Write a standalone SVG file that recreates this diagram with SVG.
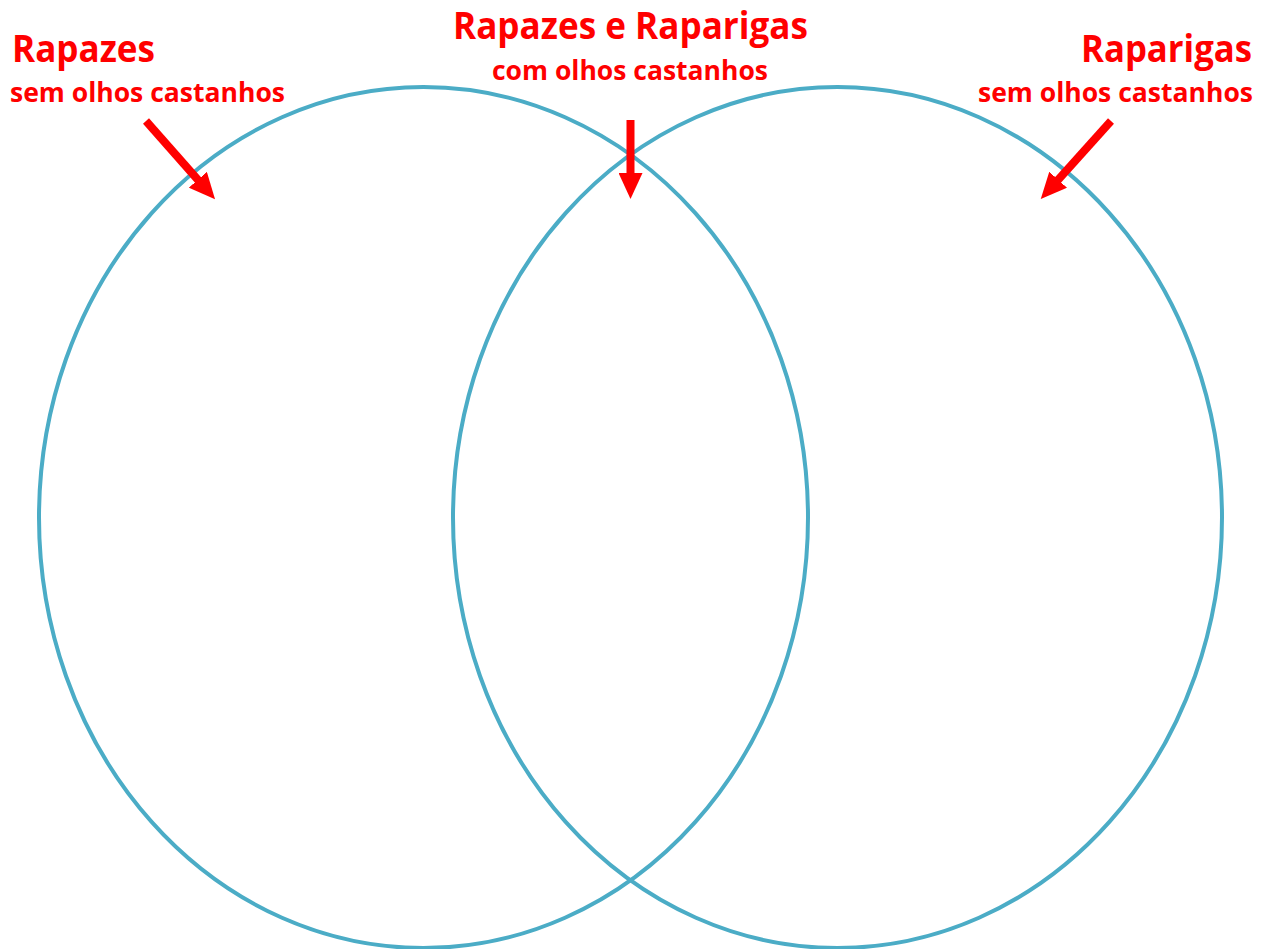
<svg xmlns="http://www.w3.org/2000/svg" width="1269" height="949" viewBox="0 0 1269 949">
<style>
.set{fill:none;stroke:#4BACC6;stroke-width:4}
.t{font-family:"Open Sans","Liberation Sans",sans-serif;font-weight:bold;fill:#FF0000}
.big{font-size:37px}
.small{font-size:26px}
.arr{stroke:#FF0000;stroke-width:8;fill:none;marker-end:url(#head)}
</style>
<defs>
<marker id="head" markerUnits="userSpaceOnUse" viewBox="0 0 26 24" refX="1" refY="12" markerWidth="26" markerHeight="24" orient="auto">
<polygon points="0,0 26,12 0,24" fill="#FF0000"/>
</marker>
</defs>
<rect width="1269" height="949" fill="#FFFFFF"/>
<g id="set-rapazes"><ellipse class="set" cx="423.5" cy="517.5" rx="384.5" ry="430.5"/></g>
<g id="set-raparigas"><ellipse class="set" cx="837.5" cy="517.5" rx="384.5" ry="430.5"/></g>
<g id="label-rapazes">
<text class="t big" x="12" y="62" textLength="143" lengthAdjust="spacingAndGlyphs">Rapazes</text>
<text class="t small" x="10" y="102" textLength="275" lengthAdjust="spacingAndGlyphs">sem olhos castanhos</text>
</g>
<g id="label-ambos">
<text class="t big" x="453" y="39" textLength="355" lengthAdjust="spacingAndGlyphs">Rapazes e Raparigas</text>
<text class="t small" x="492" y="80" textLength="276" lengthAdjust="spacingAndGlyphs">com olhos castanhos</text>
</g>
<g id="label-raparigas">
<text class="t big" x="1081" y="62" textLength="171" lengthAdjust="spacingAndGlyphs">Raparigas</text>
<text class="t small" x="978" y="102" textLength="275" lengthAdjust="spacingAndGlyphs">sem olhos castanhos</text>
</g>
<g id="connectors">
<line class="arr" x1="146" y1="121" x2="198.5" y2="180.5"/>
<line class="arr" x1="630.5" y1="120" x2="630.5" y2="174"/>
<line class="arr" x1="1111" y1="121" x2="1057.5" y2="180.5"/>
</g>
</svg>
